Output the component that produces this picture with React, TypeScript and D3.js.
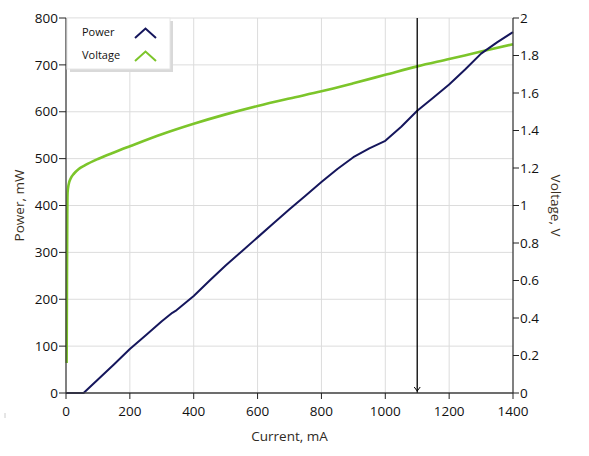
import * as d3 from "d3"

// Power curve (mA -> mW)
const powerCurrent = [0, 55, 100, 150, 200, 250, 300, 333, 343, 400, 450, 500, 550, 600, 650, 700, 750, 800, 850, 900, 950, 1000, 1050, 1100, 1150, 1200, 1250, 1300, 1350, 1400]
const powerValues = [0, 0, 29, 61, 94, 123, 153, 171, 175, 207, 240, 272, 302, 332, 362, 392, 421, 450, 478, 503, 522, 538, 568, 602, 630, 658, 690, 724, 748, 770]

// Voltage curve (mA -> V)
const voltageCurrent = [2, 3, 4, 5, 8, 15, 25, 40, 60, 100, 150, 200, 300, 400, 500, 600, 700, 800, 900, 1000, 1100, 1200, 1300, 1400]
const voltageValues = [0.16, 0.6, 0.95, 1.07, 1.11, 1.145, 1.17, 1.195, 1.215, 1.248, 1.283, 1.316, 1.38, 1.436, 1.486, 1.531, 1.571, 1.609, 1.652, 1.697, 1.742, 1.781, 1.821, 1.86]

const xTicks = [0, 200, 400, 600, 800, 1000, 1200, 1400]
const powerTicks = [0, 100, 200, 300, 400, 500, 600, 700, 800]
const voltTicks = [0, 0.2, 0.4, 0.6, 0.8, 1, 1.2, 1.4, 1.6, 1.8, 2]
const cursorCurrent = 1100

const legendItems = ["Power", "Voltage"]

const W = 589
const H = 456
const left = 66
const right = 513
const top = 18
const bottom = 393

const navy = "#15165c"
const green = "#7cc52a"
const font = "'Open Sans', sans-serif"

export default function App() {
  const x = d3.scaleLinear().domain([0, 1400]).range([left, right])
  const yP = d3.scaleLinear().domain([0, 800]).range([bottom, top])
  const yV = d3.scaleLinear().domain([0, 2]).range([bottom, top])

  const powerPts: [number, number][] = powerCurrent.map((c, i) => [c, powerValues[i]])
  const voltPts: [number, number][] = voltageCurrent.map((c, i) => [c, voltageValues[i]])

  const powerLine = d3
    .line<[number, number]>()
    .x((d) => x(d[0]))
    .y((d) => yP(d[1]))
  const voltLine = d3
    .line<[number, number]>()
    .x((d) => x(d[0]))
    .y((d) => yV(d[1]))
    .curve(d3.curveMonotoneX)

  const cx = x(cursorCurrent)
  const colors = [navy, green]

  return (
    <svg
      width={W}
      height={H}
      style={{ position: "absolute", left: 0, top: 0, background: "#fff" }}
      fontFamily={font}
    >
      {/* grid */}
      <g stroke="#dcdcdc" strokeWidth={1}>
        {xTicks.slice(1, -1).map((t) => (
          <line key={t} x1={x(t)} x2={x(t)} y1={top} y2={bottom} />
        ))}
        {powerTicks.slice(1).map((t) => (
          <line key={t} x1={left} x2={right} y1={yP(t)} y2={yP(t)} />
        ))}
      </g>

      {/* curves */}
      <path d={voltLine(voltPts) ?? ""} fill="none" stroke={green} strokeWidth={2.6} />
      <path
        d={powerLine(powerPts) ?? ""}
        fill="none"
        stroke={navy}
        strokeWidth={2}
        strokeLinejoin="round"
      />

      {/* cursor */}
      <line x1={cx} x2={cx} y1={top} y2={bottom} stroke="#000" strokeWidth={1.3} />
      <path
        d={`M${cx - 3},${bottom - 6} L${cx},${bottom - 2} L${cx + 3},${bottom - 6}`}
        fill="none"
        stroke="#000"
        strokeWidth={1}
      />

      {/* frame */}
      <g stroke="#3c3c3c" strokeWidth={1.3} fill="none">
        <line x1={left} x2={left} y1={top} y2={bottom} />
        <line x1={right} x2={right} y1={top} y2={bottom} />
        <line x1={left} x2={right} y1={bottom} y2={bottom} />
      </g>

      {/* left axis */}
      <g fontSize={13.5} fill="#111" textAnchor="end">
        {powerTicks.map((t) => (
          <g key={t}>
            <line x1={left - 7} x2={left} y1={yP(t)} y2={yP(t)} stroke="#222" />
            <text x={left - 8} y={yP(t)} dy="0.35em">
              {t}
            </text>
          </g>
        ))}
      </g>

      {/* right axis */}
      <g fontSize={13.5} fill="#111" textAnchor="start">
        {voltTicks.map((t) => (
          <g key={t}>
            <line x1={right} x2={right + 6} y1={yV(t)} y2={yV(t)} stroke="#222" />
            <text x={right + 7} y={yV(t)} dy="0.35em">
              {d3.format("")(+t.toFixed(1))}
            </text>
          </g>
        ))}
      </g>

      {/* bottom axis */}
      <g fontSize={13.5} fill="#111" textAnchor="middle">
        {xTicks.map((t) => (
          <g key={t}>
            <line x1={x(t)} x2={x(t)} y1={bottom} y2={bottom + 6} stroke="#222" />
            <text x={x(t)} y={bottom + 23}>
              {t}
            </text>
          </g>
        ))}
      </g>

      {/* axis titles */}
      <text x={(left + right) / 2} y={441} textAnchor="middle" fontSize={13.5} fill="#2f2a24">
        Current, mA
      </text>
      <text
        transform={`translate(24,${(top + bottom) / 2}) rotate(-90)`}
        textAnchor="middle"
        fontSize={13.5}
        fill="#3a2f22"
      >
        Power, mW
      </text>
      <text
        transform={`translate(551,${(top + bottom) / 2}) rotate(90)`}
        textAnchor="middle"
        fontSize={13.5}
        fill="#3a2f22"
      >
        Voltage, V
      </text>

      {/* small stray mark bottom-left */}
      <line x1={5} x2={5} y1={413} y2={418} stroke="#ccc" />

      {/* legend */}
      <g>
        <rect x={70} y={21} width={103} height={51} fill="#d9d9d9" />
        <rect x={67} y={18} width={103} height={51} fill="#fff" stroke="#e6e6e6" />
        {legendItems.map((name, i) => (
          <g key={name} transform={`translate(0,${i * 23})`}>
            <text x={82} y={36} fontSize={11} fill="#111">
              {name}
            </text>
            <path
              d="M135,38 L145.5,28.5 L156,38"
              fill="none"
              stroke={colors[i]}
              strokeWidth={2}
            />
          </g>
        ))}
      </g>
    </svg>
  )
}
